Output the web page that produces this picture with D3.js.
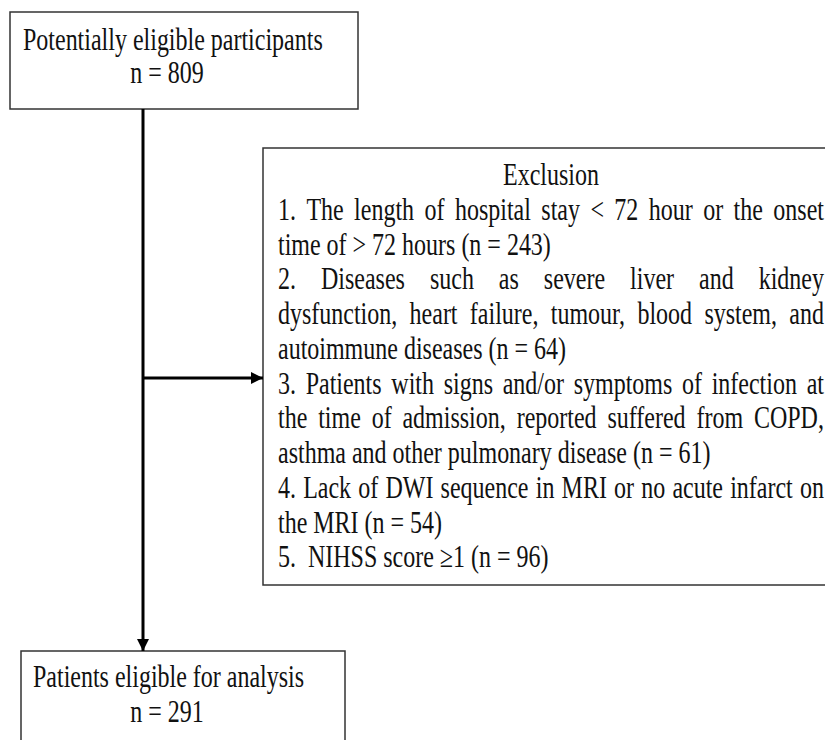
<!DOCTYPE html>
<html>
<head>
<meta charset="utf-8">
<script src="https://cdn.jsdelivr.net/npm/d3@7"></script>
<style>
  body { margin: 0; background: #fff; }
  text { font-family: "Times New Roman", "Liberation Serif", serif; fill: #111; white-space: pre; }
</style>
</head>
<body>
<div id="chart"></div>
<script>
// flow data
const topLabel = ["Potentially eligible participants", "n = 809"];
const bottomLabel = ["Patients eligible for analysis", "n = 291"];
const exclusionTitle = "Exclusion";
// each line of the exclusion box, with a flag if it is justified
const exclusionLines = [
  "1. The length of hospital stay < 72 hour or the onset",
  "time of > 72 hours (n = 243)",
  "2. Diseases such as severe liver and kidney",
  "dysfunction, heart failure, tumour, blood system, and",
  "autoimmune diseases (n = 64)",
  "3. Patients with signs and/or symptoms of infection at",
  "the time of admission, reported suffered from COPD,",
  "asthma and other pulmonary disease (n = 61)",
  "4.  Lack of DWI sequence in MRI or no acute infarct on",
  "the MRI (n = 54)",
  "5.  NIHSS score \u22651 (n = 96)"
];
const justified = [true, false, true, true, false, true, true, false, true, false, false];

const width = 825, height = 740;
const fontSize = 24, stretch = 1.28;

const svg = d3.select("#chart").append("svg")
  .attr("width", width)
  .attr("height", height);

const defs = svg.append("defs");
defs.append("marker")
  .attr("id", "arrow")
  .attr("viewBox", "0 0 12 12")
  .attr("refX", 12).attr("refY", 6)
  .attr("markerWidth", 12).attr("markerHeight", 12)
  .attr("markerUnits", "userSpaceOnUse")
  .attr("orient", "auto")
  .append("path")
    .attr("d", "M0,0 L12,6 L0,12 Z")
    .attr("fill", "#000");

// boxes
const boxes = [
  {x: 10, y: 12, w: 348, h: 97},
  {x: 263, y: 148, w: 580, h: 437},
  {x: 21, y: 651, w: 324, h: 100}
];
svg.selectAll("rect.box")
  .data(boxes)
  .enter().append("rect")
    .attr("class", "box")
    .attr("x", d => d.x).attr("y", d => d.y)
    .attr("width", d => d.w).attr("height", d => d.h)
    .attr("fill", "none")
    .attr("stroke", "#333")
    .attr("stroke-width", 1.5);

// arrows
const trunkX = 143;
svg.append("line")
  .attr("x1", trunkX).attr("y1", 109)
  .attr("x2", trunkX).attr("y2", 651)
  .attr("stroke", "#000").attr("stroke-width", 3)
  .attr("marker-end", "url(#arrow)");
svg.append("line")
  .attr("x1", trunkX).attr("y1", 378)
  .attr("x2", 263).attr("y2", 378)
  .attr("stroke", "#000").attr("stroke-width", 3)
  .attr("marker-end", "url(#arrow)");

// helper: a text line stretched vertically around its baseline
function textLine(x, y, str, anchor) {
  return svg.append("g")
    .attr("transform", "translate(0," + y + ") scale(1," + stretch + ")")
    .append("text")
      .attr("x", x).attr("y", 0)
      .attr("text-anchor", anchor || "start")
      .style("font-size", fontSize + "px")
      .text(str);
}

textLine(23, 50, topLabel[0]);
textLine(167, 83, topLabel[1], "middle");
textLine(33, 687, bottomLabel[0]);
textLine(167, 722, bottomLabel[1], "middle");

// exclusion box text
const left = 278, right = 824, lineStep = 34.75, firstBase = 185;
textLine(551, firstBase, exclusionTitle, "middle");

const measure = svg.append("text").style("font-size", fontSize + "px");
function wordWidth(w) { measure.text(w); return measure.node().getComputedTextLength(); }

exclusionLines.forEach(function(line, i) {
  const y = firstBase + (i + 1) * lineStep;
  if (!justified[i]) { textLine(left, y, line); return; }
  const words = line.split(/\s+/);
  const widths = words.map(wordWidth);
  const total = d3.sum(widths);
  const gap = (right - left - total) / (words.length - 1);
  const g = svg.append("g")
    .attr("transform", "translate(0," + y + ") scale(1," + stretch + ")");
  let x = left;
  words.forEach(function(w, j) {
    g.append("text").attr("x", x).attr("y", 0)
      .style("font-size", fontSize + "px").text(w);
    x += widths[j] + gap;
  });
});
measure.remove();
</script>
</body>
</html>
